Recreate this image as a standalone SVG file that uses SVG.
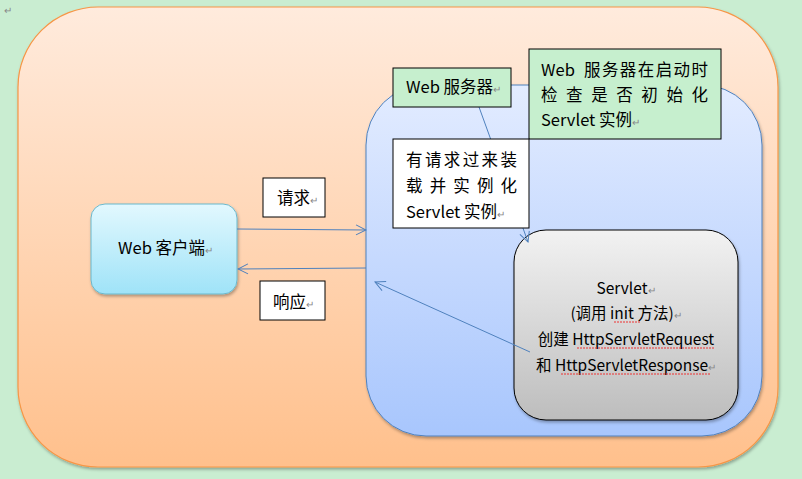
<svg xmlns="http://www.w3.org/2000/svg" width="802" height="479" viewBox="0 0 802 479">
<defs>
<linearGradient id="gOrange" x1="0" y1="0" x2="0" y2="1"><stop offset="0" stop-color="#FFEBDD"/><stop offset="1" stop-color="#FFC08C"/></linearGradient>
<linearGradient id="gBlue" x1="0" y1="0" x2="0" y2="1"><stop offset="0" stop-color="#E3ECFF"/><stop offset="1" stop-color="#A8C6FD"/></linearGradient>
<linearGradient id="gGray" x1="0" y1="0" x2="0" y2="1"><stop offset="0" stop-color="#F2F2F2"/><stop offset="1" stop-color="#BDBDBD"/></linearGradient>
<linearGradient id="gCyan" x1="0" y1="0" x2="0" y2="1"><stop offset="0" stop-color="#E2F8FE"/><stop offset="1" stop-color="#9FE3F8"/></linearGradient>
<filter id="sh" x="-10%" y="-10%" width="120%" height="120%"><feDropShadow dx="1" dy="2" stdDeviation="1.5" flood-color="#000" flood-opacity="0.3"/></filter>
<marker id="arr" markerWidth="12" markerHeight="12" refX="11" refY="6" orient="auto" markerUnits="userSpaceOnUse"><path d="M1,1 L11,6 L1,11" fill="none" stroke="#4F81BD" stroke-width="1"/></marker>
</defs>
<style>
text{font-family:"Noto Sans CJK SC","Open Sans",sans-serif;font-size:16.5px;fill:#000}
.sv{font-size:15.5px}
.pm{fill:#888;font-size:10px}
.box{stroke:#000;stroke-width:1}
.green{fill:#C6EFCE}
.white{fill:#fff}
.conn{stroke:#4F81BD;stroke-width:1;fill:none}
.wave{stroke:#E33;stroke-width:1;fill:none;stroke-dasharray:2 1}
</style>
<rect width="802" height="479" fill="#C9EDD1"/>
<text x="4" y="14" class="pm">↵</text>
<g id="outer"><rect x="18" y="7" width="760" height="460" rx="80" fill="url(#gOrange)" stroke="#F79646" stroke-width="1.2" filter="url(#sh)"/></g>
<g id="webserver-area"><rect x="366" y="85" width="396" height="351" rx="60" fill="url(#gBlue)" stroke="#4F81BD" stroke-width="1" filter="url(#sh)"/></g>
<g id="servlet">
<rect x="514" y="230" width="224" height="190" rx="32" fill="url(#gGray)" stroke="#000" stroke-width="1" filter="url(#sh)"/>
<text class="sv" x="626" y="294" text-anchor="middle">Servlet<tspan class="pm">↵</tspan></text>
<text class="sv" x="626" y="319" text-anchor="middle">(调用 init 方法)<tspan class="pm">↵</tspan></text>
<text class="sv" x="626" y="345" text-anchor="middle">创建 HttpServletRequest</text>
<text class="sv" x="626" y="371" text-anchor="middle">和 HttpServletResponse<tspan class="pm">↵</tspan></text>
<path class="wave" d="M614,322 L640,322 M577,348 L715,348 M561,374 L711,374"/>
</g>
<g id="client">
<rect x="91" y="204" width="146" height="90" rx="14" fill="url(#gCyan)" stroke="#6BB8CC" stroke-width="1" filter="url(#sh)"/>
<text x="118" y="254">Web 客户端<tspan class="pm">↵</tspan></text>
</g>
<g id="connectors">
<line class="conn" x1="237" y1="229" x2="366" y2="230" marker-end="url(#arr)"/>
<line class="conn" x1="366" y1="268" x2="238" y2="269" marker-end="url(#arr)"/>
<line class="conn" x1="479" y1="107" x2="528" y2="242" marker-end="url(#arr)"/>
<line class="conn" x1="530" y1="352" x2="375" y2="282" marker-end="url(#arr)"/>
</g>
<g id="label-request">
<rect class="box white" x="263" y="178" width="62" height="39"/>
<text x="277" y="204">请求<tspan class="pm">↵</tspan></text>
</g>
<g id="label-response">
<rect class="box white" x="260" y="281" width="65" height="39"/>
<text x="273" y="308">响应<tspan class="pm">↵</tspan></text>
</g>
<g id="label-webserver">
<rect class="box green" x="393" y="68" width="118" height="39"/>
<text x="406" y="93">Web 服务器<tspan class="pm">↵</tspan></text>
</g>
<g id="label-startup">
<rect class="box green" x="529" y="49" width="192" height="90"/>
<text x="541" y="76">Web</text>
<text x="584" y="76" textLength="124" lengthAdjust="spacing">服务器在启动时</text>
<text x="541" y="101" textLength="167" lengthAdjust="spacing">检查是否初始化</text>
<text x="541" y="126">Servlet 实例<tspan class="pm">↵</tspan></text>
</g>
<g id="label-load">
<rect class="box white" x="393" y="139" width="136" height="89"/>
<text x="406" y="166" textLength="111" lengthAdjust="spacing">有请求过来装</text>
<text x="406" y="192" textLength="111" lengthAdjust="spacing">载并实例化</text>
<text x="406" y="218">Servlet 实例<tspan class="pm">↵</tspan></text>
</g>
</svg>
